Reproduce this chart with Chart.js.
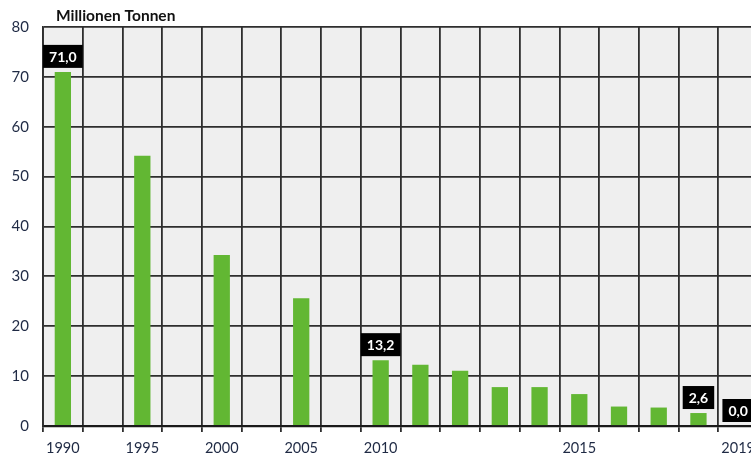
<!DOCTYPE html>
<html>
<head>
<meta charset="utf-8">
<script src="https://cdn.jsdelivr.net/npm/chart.js@4/dist/chart.umd.min.js"></script>
<style>
  html, body { margin: 0; padding: 0; background: #fff; overflow: hidden; }
  #wrap { position: absolute; left: 0; top: 0; width: 763px; height: 457px; }
</style>
</head>
<body>
<div id="wrap"><canvas id="chart"></canvas></div>
<script>
// categories, with empty slots between the five-year steps
const categories = ["1990", "1991-94", "1995", "1996-99", "2000", "2001-04", "2005", "2006-09",
  "2010", "2011", "2012", "2013", "2014", "2015", "2016", "2017", "2018", "2019"];
// Millionen Tonnen
const values = [71.0, null, 54.2, null, 34.3, null, 25.6, null,
  13.2, 12.3, 11.1, 7.8, 7.8, 6.4, 3.9, 3.7, 2.6, 0.0];
const tickLabels = ["1990", "1995", "2000", "2005", "2010", "2015", "2019"];
const labelledYears = ["1990", "2010", "2018", "2019"];
const yTicks = [0, 10, 20, 30, 40, 50, 60, 70, 80];
const unitTitle = "Millionen Tonnen";

const FONT = "Lato, 'Open Sans', sans-serif";
const GRID = "#2e2e2e";

// grey plot background + title + black value boxes
const decorations = {
  id: "decorations",
  beforeDraw(chart) {
    const { ctx, chartArea: a } = chart;
    ctx.save();
    ctx.fillStyle = "#efefef";
    ctx.fillRect(a.left, a.top, a.right - a.left, a.bottom - a.top);
    ctx.restore();
  },
  afterDatasetsDraw(chart) {
    const { ctx, chartArea: a } = chart;
    const meta = chart.getDatasetMeta(0);
    ctx.save();
    ctx.font = "bold 14px " + FONT;
    ctx.textAlign = "center";
    ctx.textBaseline = "middle";
    labelledYears.forEach(year => {
      const i = categories.indexOf(year);
      const bar = meta.data[i];
      const txt = values[i].toFixed(1).replace(".", ",");
      const w = ctx.measureText(txt).width + 12;
      const h = 23;
      const bottom = bar.y - 4;
      ctx.fillStyle = "#000";
      ctx.fillRect(bar.x - w / 2, bottom - h, w, h);
      ctx.fillStyle = "#fff";
      ctx.fillText(txt, bar.x, bottom - h / 2 + 1);
    });
    ctx.restore();

    ctx.save();
    ctx.font = "bold 15.5px " + FONT;
    ctx.fillStyle = "#111";
    ctx.textAlign = "left";
    ctx.textBaseline = "middle";
    ctx.fillText(unitTitle, a.left + 13, 16);
    ctx.restore();
  }
};

new Chart(document.getElementById("chart"), {
  type: "bar",
  data: {
    labels: categories,
    datasets: [{
      data: values,
      backgroundColor: "#62b733",
      borderWidth: 0,
      categoryPercentage: 1,
      barPercentage: 0.41
    }]
  },
  options: {
    responsive: true,
    maintainAspectRatio: false,
    animation: false,
    layout: { padding: { top: 27, left: 0, right: 0, bottom: 0 } },
    plugins: { legend: { display: false }, tooltip: { enabled: false } },
    scales: {
      x: {
        offset: true,
        grid: { offset: true, color: GRID, lineWidth: 1.8, drawTicks: true, tickLength: 6 },
        border: { display: true, color: "#1a1a1a", width: 2.2 },
        ticks: {
          autoSkip: false,
          maxRotation: 0,
          padding: 8,
          color: "#1f2a44",
          font: { family: FONT, size: 14.5 },
          callback: function (v) {
            const l = categories[v];
            return tickLabels.includes(l) ? l : "";
          }
        },
        afterFit(scale) { scale.height = 31; }
      },
      y: {
        min: 0,
        max: 80,
        grid: { color: GRID, lineWidth: 1.8, drawTicks: false },
        border: { display: true, color: GRID, width: 1.8 },
        afterBuildTicks(scale) { scale.ticks = yTicks.map(v => ({ value: v })); },
        ticks: {
          padding: 14,
          color: "#1f2a44",
          font: { family: FONT, size: 15 }
        },
        afterFit(scale) { scale.width = 43; }
      }
    }
  },
  plugins: [decorations]
});
</script>
</body>
</html>
